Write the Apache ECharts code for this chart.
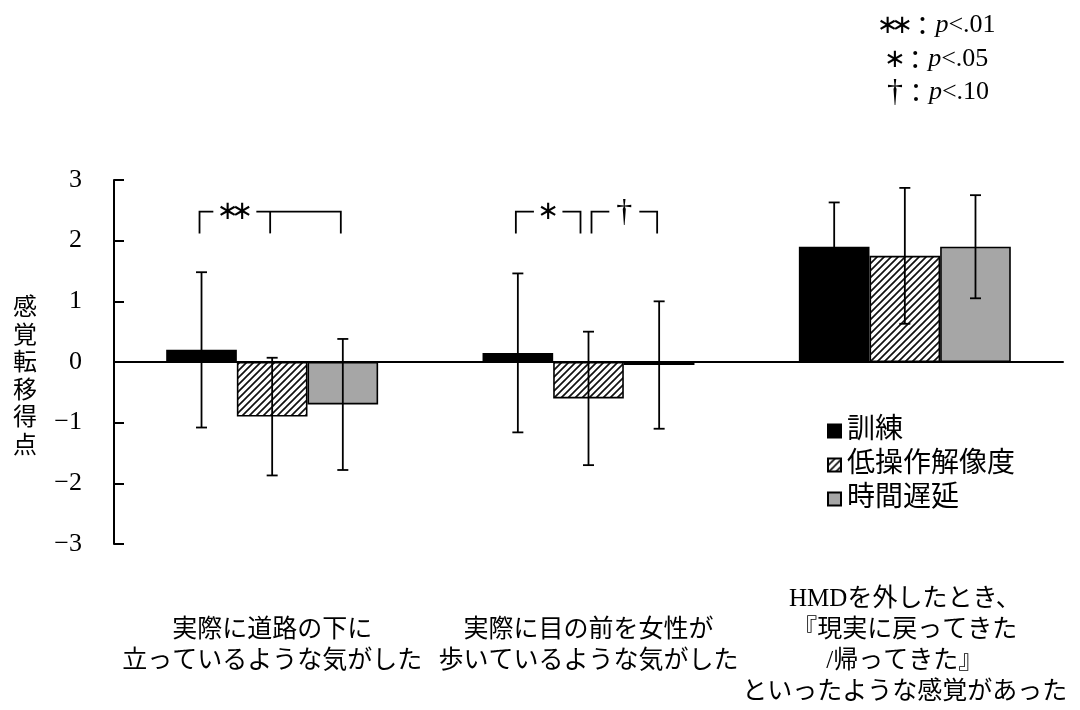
<!DOCTYPE html>
<html>
<head>
<meta charset="utf-8">
<script src="https://cdn.jsdelivr.net/npm/echarts@6/dist/echarts.min.js"></script>
<style>
  html, body { margin: 0; padding: 0; background: #fff; }
  #chart { width: 1080px; height: 710px; }
</style>
</head>
<body>
<div id="chart"></div>
<script>
// ---- data ----
const categories = [
  '実際に道路の下に\n立っているような気がした',
  '実際に目の前を女性が\n歩いているような気がした',
  'HMDを外したとき、\n『現実に戻ってきた\n/帰ってきた』\nといったような感覚があった'
];
const seriesNames = ['訓練', '低操作解像度', '時間遅延'];
const meanTraining = [0.2, 0.15, 1.9];
const sdTraining = [1.28, 1.31, 0.73];
const meanLowRes = [-0.9, -0.6, 1.75];
const sdLowRes = [0.97, 1.1, 1.12];
const meanDelay = [-0.7, -0.05, 1.9];
const sdDelay = [1.08, 1.05, 0.85];
const yTickValues = [-3, -2, -1, 0, 1, 2, 3];

// significance brackets: category, first bar, last bar, mark
const sigGroup = [0, 1, 1];
const sigFrom = [0, 0, 1];
const sigTo = [2, 1, 2];
const sigMark = ['∗∗', '∗', '†'];
const pMarks = ['∗∗', '∗', '†'];
const pValues = ['.01', '.05', '.10'];

// ---- styling ----
const SERIF = "'Liberation Serif', 'DejaVu Serif', serif";
const CJK = "'Liberation Serif', 'Noto Sans CJK JP', sans-serif";
const CAT_GAP = 0.33;
const BRACKET_TOP = 2.48;
const BRACKET_LEG = 0.36;
const STAR_STEP = 14.5;

function hatchPattern() {
  const s = 7;
  const c = document.createElement('canvas');
  c.width = s; c.height = s;
  const g = c.getContext('2d');
  g.fillStyle = '#fff';
  g.fillRect(0, 0, s, s);
  g.strokeStyle = '#111';
  g.lineWidth = 1.7;
  g.beginPath();
  g.moveTo(-1, s + 1); g.lineTo(s + 1, -1);
  g.moveTo(-1, 1); g.lineTo(1, -1);
  g.moveTo(s - 1, s + 1); g.lineTo(s + 1, s - 1);
  g.stroke();
  return c;
}

const barFills = ['#000000', { image: hatchPattern(), repeat: 'repeat' }, '#a6a6a6'];
const means = [meanTraining, meanLowRes, meanDelay];
const sds = [sdTraining, sdLowRes, sdDelay];

function barWidthOf(api) {
  return api.size([1, 0])[0] * (1 - CAT_GAP) / 3;
}
function barCenter(api, cat, k) {
  return api.coord([cat, 0])[0] + (k - 1) * barWidthOf(api);
}

function errorBarRenderer(k) {
  return function (params, api) {
    const cat = api.value(0);
    const x = barCenter(api, cat, k);
    const yLo = api.coord([cat, api.value(1)])[1];
    const yHi = api.coord([cat, api.value(2)])[1];
    const cap = 5.5;
    const st = { stroke: '#000', lineWidth: 1.8 };
    return {
      type: 'group',
      children: [
        { type: 'line', shape: { x1: x, y1: yLo, x2: x, y2: yHi }, style: st },
        { type: 'line', shape: { x1: x - cap, y1: yHi, x2: x + cap, y2: yHi }, style: st },
        { type: 'line', shape: { x1: x - cap, y1: yLo, x2: x + cap, y2: yLo }, style: st }
      ]
    };
  };
}

const measureCtx = document.createElement('canvas').getContext('2d');
function measure(text, font) {
  measureCtx.font = font;
  return measureCtx.measureText(text).width;
}
function markFont(ch) {
  return ch === '†' ? "32px 'Liberation Serif', serif" : "26px 'DejaVu Sans', sans-serif";
}
function markWidth(mark) {
  return mark === '†' ? measure('†', markFont('†')) : mark.length * STAR_STEP;
}
// each symbol is placed on its own so the asterisks sit close together
function markElements(mark, left, y) {
  const out = [];
  if (mark === '†') {
    out.push({ type: 'text', style: { text: '†', x: left, y, align: 'left', verticalAlign: 'middle', font: markFont('†'), fill: '#000' } });
    return out;
  }
  for (let i = 0; i < mark.length; i++) {
    out.push({ type: 'text', style: { text: mark[i], x: left + (i + 0.5) * STAR_STEP, y, align: 'center', verticalAlign: 'middle', font: markFont(mark[i]), fill: '#000' } });
  }
  return out;
}

function bracketRenderer(params, api) {
  const cat = api.value(0), from = api.value(1), to = api.value(2), idx = api.value(3);
  const sharedLeft = sigGroup.some((g, i) => i !== idx && g === cat && sigTo[i] === from);
  const sharedRight = sigGroup.some((g, i) => i !== idx && g === cat && sigFrom[i] === to);
  const xL = barCenter(api, cat, from) - 2 + (sharedLeft ? 5 : 0);
  const xR = barCenter(api, cat, to) - 2 - (sharedRight ? 6 : 0);
  const yTop = api.coord([cat, BRACKET_TOP])[1];
  const yBot = api.coord([cat, BRACKET_TOP - BRACKET_LEG])[1];
  const firstRight = (to === from + 1) ? xR : barCenter(api, cat, from + 1) - 2;
  const lx = (xL + firstRight) / 2;
  const w = markWidth(sigMark[idx]);
  const half = w / 2 + 7;
  const st = { stroke: '#000', lineWidth: 1.8, fill: null };
  const children = [
    { type: 'polyline', shape: { points: [[xL, yBot], [xL, yTop], [lx - half, yTop]] }, style: st },
    { type: 'polyline', shape: { points: [[lx + half, yTop], [xR, yTop], [xR, yBot]] }, style: st }
  ].concat(markElements(sigMark[idx], lx - w / 2, yTop + 1));
  for (let j = from + 1; j < to; j++) {
    const xm = barCenter(api, cat, j) - 2;
    children.push({ type: 'line', shape: { x1: xm, y1: yTop, x2: xm, y2: yBot }, style: st });
  }
  return { type: 'group', children };
}

const barSeries = seriesNames.map((name, k) => ({
  name,
  type: 'bar',
  xAxisIndex: 0,
  barGap: '0%',
  barCategoryGap: (CAT_GAP * 100) + '%',
  data: means[k],
  itemStyle: { color: barFills[k], borderColor: '#000', borderWidth: 1.6 },
  z: 2
}));

const errorSeries = seriesNames.map((name, k) => ({
  type: 'custom',
  name: 'sd-' + k,
  xAxisIndex: 0,
  renderItem: errorBarRenderer(k),
  encode: { x: 0, y: [1, 2] },
  data: means[k].map((m, i) => [i, m - sds[k][i], m + sds[k][i]]),
  z: 3,
  silent: true
}));

const bracketSeries = {
  type: 'custom',
  name: 'sig',
  xAxisIndex: 0,
  renderItem: bracketRenderer,
  encode: { x: 0, y: -1 },
  clip: false,
  data: sigGroup.map((g, i) => [g, sigFrom[i], sigTo[i], i]),
  z: 4,
  silent: true
};

// p-value key in the top-right corner
const COLON_FONT = "26px 'Noto Sans CJK JP', sans-serif";
const P_FONT = "italic 26px " + SERIF;
const NUM_FONT = "26px " + SERIF;
const keyRowsY = [25, 59, 92];
const keyCenterX = 938;
const pKeyGraphics = pMarks.map((mark, i) => {
  const y = keyRowsY[i];
  const mw = markWidth(mark);
  const cw = measure('：', COLON_FONT);
  const pw = measure('p', P_FONT);
  const rest = '<' + pValues[i];
  const rw = measure(rest, NUM_FONT);
  const total = mw + cw + pw + rw;
  let x = keyCenterX - total / 2;
  const els = markElements(mark, x, y + 1);
  x += mw;
  els.push({ type: 'text', style: { text: '：', x, y, align: 'left', verticalAlign: 'middle', font: COLON_FONT, fill: '#000' } });
  x += cw;
  els.push({ type: 'text', style: { text: 'p', x, y, align: 'left', verticalAlign: 'middle', font: P_FONT, fill: '#000' } });
  x += pw;
  els.push({ type: 'text', style: { text: rest, x, y, align: 'left', verticalAlign: 'middle', font: NUM_FONT, fill: '#000' } });
  return { type: 'group', children: els };
});

const chart = echarts.init(document.getElementById('chart'), null, { renderer: 'canvas' });
chart.setOption({
  animation: false,
  backgroundColor: '#fff',
  grid: { left: 114, right: 17, top: 180, bottom: 166, containLabel: false },
  legend: {
    data: seriesNames,
    orient: 'vertical',
    left: 822,
    top: 412,
    itemWidth: 13,
    itemHeight: 13,
    itemGap: 6,
    icon: 'rect',
    selectedMode: false,
    textStyle: { fontFamily: CJK, fontSize: 28, color: '#000', padding: [0, 0, 0, 1] }
  },
  xAxis: [
    {
      type: 'category',
      data: categories,
      axisLine: { onZero: true, lineStyle: { color: '#000', width: 2 } },
      axisTick: { inside: true, length: 7, lineStyle: { color: '#000', width: 2 } },
      axisLabel: { show: false },
      splitLine: { show: false }
    },
    {
      type: 'category',
      data: categories,
      position: 'bottom',
      axisLine: { show: false, onZero: false },
      axisTick: { show: false },
      splitLine: { show: false },
      axisLabel: {
        interval: 0,
        margin: 102,
        verticalAlign: 'middle',
        fontFamily: CJK,
        fontSize: 25,
        lineHeight: 31,
        color: '#000'
      }
    }
  ],
  yAxis: {
    type: 'value',
    min: yTickValues[0],
    max: yTickValues[yTickValues.length - 1],
    interval: 1,
    axisLine: { show: true, lineStyle: { color: '#000', width: 2 } },
    axisTick: { show: true, inside: true, length: 10, lineStyle: { color: '#000', width: 2 } },
    splitLine: { show: false },
    axisLabel: {
      margin: 32,
      fontFamily: SERIF,
      fontSize: 26,
      color: '#000',
      formatter: v => (v < 0 ? '−' + Math.abs(v) : String(v))
    }
  },
  graphic: [
    {
      type: 'text',
      x: 25,
      y: 375,
      style: {
        text: '感\n覚\n転\n移\n得\n点',
        align: 'center',
        verticalAlign: 'middle',
        font: "24px 'Noto Sans CJK JP', sans-serif",
        lineHeight: 27.5,
        fill: '#000'
      }
    }
  ].concat(pKeyGraphics),
  series: barSeries.concat(errorSeries, [bracketSeries])
});
</script>
</body>
</html>
